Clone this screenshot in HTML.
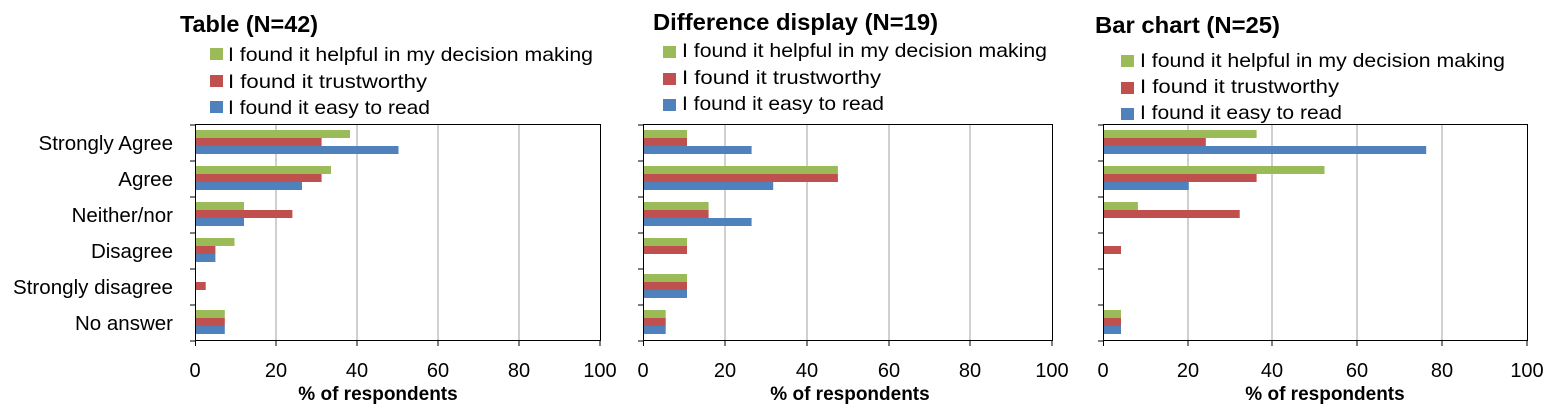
<!DOCTYPE html>
<html><head><meta charset="utf-8"><style>
html,body{margin:0;padding:0;background:#fff}
svg{display:block}
text{font-family:"Liberation Sans",sans-serif;fill:#000}
.t{font-size:23px;font-weight:bold}
.l{font-size:19.5px}
.k{font-size:20.5px}
.n{font-size:20px}
.ax{font-size:19px;font-weight:bold}
</style></head><body>
<svg width="1565" height="410" xmlns="http://www.w3.org/2000/svg">
<!-- Panel 1 -->
<text class="t" x="180" y="32" textLength="138" lengthAdjust="spacingAndGlyphs">Table (N=42)</text>
<rect x="210" y="48" width="13" height="12" fill="#9BBB59"/><text class="l" x="228" y="61" textLength="365" lengthAdjust="spacingAndGlyphs">I found it helpful in my decision making</text>
<rect x="210" y="75" width="13" height="12" fill="#C0504D"/><text class="l" x="228" y="88" textLength="199" lengthAdjust="spacingAndGlyphs">I found it trustworthy</text>
<rect x="210" y="101" width="13" height="12" fill="#4F81BD"/><text class="l" x="228" y="114" textLength="202" lengthAdjust="spacingAndGlyphs">I found it easy to read</text>
<g stroke="#a0a0a0"><line x1="276" y1="125" x2="276" y2="341"/><line x1="357" y1="125" x2="357" y2="341"/><line x1="438" y1="125" x2="438" y2="341"/><line x1="519" y1="125" x2="519" y2="341"/></g>
<g text-anchor="end" class="k">
<text x="173" y="150">Strongly Agree</text><text x="173" y="186">Agree</text><text x="173" y="222">Neither/nor</text><text x="173" y="258">Disagree</text><text x="173" y="294" textLength="160" lengthAdjust="spacingAndGlyphs">Strongly disagree</text><text x="173" y="330">No answer</text></g>
<g>
<rect x="196" y="130" width="154" height="8" fill="#9BBB59"/><rect x="196" y="138" width="125.6" height="8" fill="#C0504D"/><rect x="196" y="146" width="202.5" height="8" fill="#4F81BD"/>
<rect x="196" y="166" width="135" height="8" fill="#9BBB59"/><rect x="196" y="174" width="125.6" height="8" fill="#C0504D"/><rect x="196" y="182" width="106" height="8" fill="#4F81BD"/>
<rect x="196" y="202" width="48" height="8" fill="#9BBB59"/><rect x="196" y="210" width="96.4" height="8" fill="#C0504D"/><rect x="196" y="218" width="48" height="8" fill="#4F81BD"/>
<rect x="196" y="238" width="38.5" height="8" fill="#9BBB59"/><rect x="196" y="246" width="19.4" height="8" fill="#C0504D"/><rect x="196" y="254" width="19.4" height="8" fill="#4F81BD"/>
<rect x="196" y="282" width="9.7" height="8" fill="#C0504D"/>
<rect x="196" y="310" width="28.8" height="8" fill="#9BBB59"/><rect x="196" y="318" width="28.8" height="8" fill="#C0504D"/><rect x="196" y="326" width="28.8" height="8" fill="#4F81BD"/>
</g>
<rect x="195.5" y="124.5" width="405" height="216" fill="none" stroke="#000"/>
<g stroke="#000"><line x1="190" y1="125" x2="195" y2="125"/><line x1="190" y1="161" x2="195" y2="161"/><line x1="190" y1="197" x2="195" y2="197"/><line x1="190" y1="233" x2="195" y2="233"/><line x1="190" y1="269" x2="195" y2="269"/><line x1="190" y1="305" x2="195" y2="305"/><line x1="190" y1="341" x2="195" y2="341"/>
<line x1="195.5" y1="341" x2="195.5" y2="346"/><line x1="276" y1="341" x2="276" y2="346"/><line x1="357" y1="341" x2="357" y2="346"/><line x1="438" y1="341" x2="438" y2="346"/><line x1="519" y1="341" x2="519" y2="346"/><line x1="600" y1="341" x2="600" y2="346"/></g>
<g text-anchor="middle" class="n"><text x="195" y="377">0</text><text x="276" y="377">20</text><text x="357" y="377">40</text><text x="438" y="377">60</text><text x="519" y="377">80</text><text x="600" y="377">100</text></g>
<text class="ax" x="378" y="400" text-anchor="middle">% of respondents</text>

<!-- Panel 2 -->
<text class="t" x="653" y="30" textLength="285" lengthAdjust="spacingAndGlyphs">Difference display (N=19)</text>
<rect x="663" y="46" width="13" height="12" fill="#9BBB59"/><text class="l" x="682" y="57" textLength="365" lengthAdjust="spacingAndGlyphs">I found it helpful in my decision making</text>
<rect x="663" y="73" width="13" height="12" fill="#C0504D"/><text class="l" x="682" y="84" textLength="199" lengthAdjust="spacingAndGlyphs">I found it trustworthy</text>
<rect x="663" y="99" width="13" height="12" fill="#4F81BD"/><text class="l" x="682" y="110" textLength="202" lengthAdjust="spacingAndGlyphs">I found it easy to read</text>
<g stroke="#a0a0a0"><line x1="725" y1="125" x2="725" y2="341"/><line x1="807" y1="125" x2="807" y2="341"/><line x1="889" y1="125" x2="889" y2="341"/><line x1="970" y1="125" x2="970" y2="341"/></g>
<g>
<rect x="644" y="130" width="43" height="8" fill="#9BBB59"/><rect x="644" y="138" width="43" height="8" fill="#C0504D"/><rect x="644" y="146" width="107.6" height="8" fill="#4F81BD"/>
<rect x="644" y="166" width="193.9" height="8" fill="#9BBB59"/><rect x="644" y="174" width="193.9" height="8" fill="#C0504D"/><rect x="644" y="182" width="129.2" height="8" fill="#4F81BD"/>
<rect x="644" y="202" width="64.6" height="8" fill="#9BBB59"/><rect x="644" y="210" width="64.6" height="8" fill="#C0504D"/><rect x="644" y="218" width="107.6" height="8" fill="#4F81BD"/>
<rect x="644" y="238" width="43" height="8" fill="#9BBB59"/><rect x="644" y="246" width="43" height="8" fill="#C0504D"/>
<rect x="644" y="274" width="43" height="8" fill="#9BBB59"/><rect x="644" y="282" width="43" height="8" fill="#C0504D"/><rect x="644" y="290" width="43" height="8" fill="#4F81BD"/>
<rect x="644" y="310" width="21.7" height="8" fill="#9BBB59"/><rect x="644" y="318" width="21.7" height="8" fill="#C0504D"/><rect x="644" y="326" width="21.7" height="8" fill="#4F81BD"/>
</g>
<rect x="643.5" y="124.5" width="409" height="216" fill="none" stroke="#000"/>
<g stroke="#000"><line x1="638" y1="125" x2="643" y2="125"/><line x1="638" y1="161" x2="643" y2="161"/><line x1="638" y1="197" x2="643" y2="197"/><line x1="638" y1="233" x2="643" y2="233"/><line x1="638" y1="269" x2="643" y2="269"/><line x1="638" y1="305" x2="643" y2="305"/><line x1="638" y1="341" x2="643" y2="341"/>
<line x1="643.5" y1="341" x2="643.5" y2="346"/><line x1="725" y1="341" x2="725" y2="346"/><line x1="807" y1="341" x2="807" y2="346"/><line x1="889" y1="341" x2="889" y2="346"/><line x1="970" y1="341" x2="970" y2="346"/><line x1="1052" y1="341" x2="1052" y2="346"/></g>
<g text-anchor="middle" class="n"><text x="643" y="377">0</text><text x="725" y="377">20</text><text x="807" y="377">40</text><text x="889" y="377">60</text><text x="970" y="377">80</text><text x="1052" y="377">100</text></g>
<text class="ax" x="850" y="400" text-anchor="middle">% of respondents</text>

<!-- Panel 3 -->
<text class="t" x="1095" y="33" textLength="185" lengthAdjust="spacingAndGlyphs">Bar chart (N=25)</text>
<rect x="1121" y="55" width="13" height="12" fill="#9BBB59"/><text class="l" x="1140" y="67" textLength="365" lengthAdjust="spacingAndGlyphs">I found it helpful in my decision making</text>
<rect x="1121" y="82" width="13" height="12" fill="#C0504D"/><text class="l" x="1140" y="93" textLength="199" lengthAdjust="spacingAndGlyphs">I found it trustworthy</text>
<rect x="1121" y="108" width="13" height="12" fill="#4F81BD"/><text class="l" x="1140" y="119" textLength="202" lengthAdjust="spacingAndGlyphs">I found it easy to read</text>
<g stroke="#a0a0a0"><line x1="1188" y1="125" x2="1188" y2="341"/><line x1="1272" y1="125" x2="1272" y2="341"/><line x1="1357" y1="125" x2="1357" y2="341"/><line x1="1442" y1="125" x2="1442" y2="341"/></g>
<g>
<rect x="1104" y="130" width="152.6" height="8" fill="#9BBB59"/><rect x="1104" y="138" width="101.8" height="8" fill="#C0504D"/><rect x="1104" y="146" width="322.2" height="8" fill="#4F81BD"/>
<rect x="1104" y="166" width="220.5" height="8" fill="#9BBB59"/><rect x="1104" y="174" width="152.6" height="8" fill="#C0504D"/><rect x="1104" y="182" width="84.8" height="8" fill="#4F81BD"/>
<rect x="1104" y="202" width="33.9" height="8" fill="#9BBB59"/><rect x="1104" y="210" width="135.7" height="8" fill="#C0504D"/>
<rect x="1104" y="246" width="17" height="8" fill="#C0504D"/>
<rect x="1104" y="310" width="17" height="8" fill="#9BBB59"/><rect x="1104" y="318" width="17" height="8" fill="#C0504D"/><rect x="1104" y="326" width="17" height="8" fill="#4F81BD"/>
</g>
<rect x="1103.5" y="124.5" width="424" height="216" fill="none" stroke="#000"/>
<g stroke="#000"><line x1="1098" y1="125" x2="1103" y2="125"/><line x1="1098" y1="161" x2="1103" y2="161"/><line x1="1098" y1="197" x2="1103" y2="197"/><line x1="1098" y1="233" x2="1103" y2="233"/><line x1="1098" y1="269" x2="1103" y2="269"/><line x1="1098" y1="305" x2="1103" y2="305"/><line x1="1098" y1="341" x2="1103" y2="341"/>
<line x1="1103.5" y1="341" x2="1103.5" y2="346"/><line x1="1188" y1="341" x2="1188" y2="346"/><line x1="1272" y1="341" x2="1272" y2="346"/><line x1="1357" y1="341" x2="1357" y2="346"/><line x1="1442" y1="341" x2="1442" y2="346"/><line x1="1527" y1="341" x2="1527" y2="346"/></g>
<g text-anchor="middle" class="n"><text x="1103" y="377">0</text><text x="1188" y="377">20</text><text x="1272" y="377">40</text><text x="1357" y="377">60</text><text x="1442" y="377">80</text><text x="1527" y="377">100</text></g>
<text class="ax" x="1325" y="400" text-anchor="middle">% of respondents</text>
</svg>
</body></html>
